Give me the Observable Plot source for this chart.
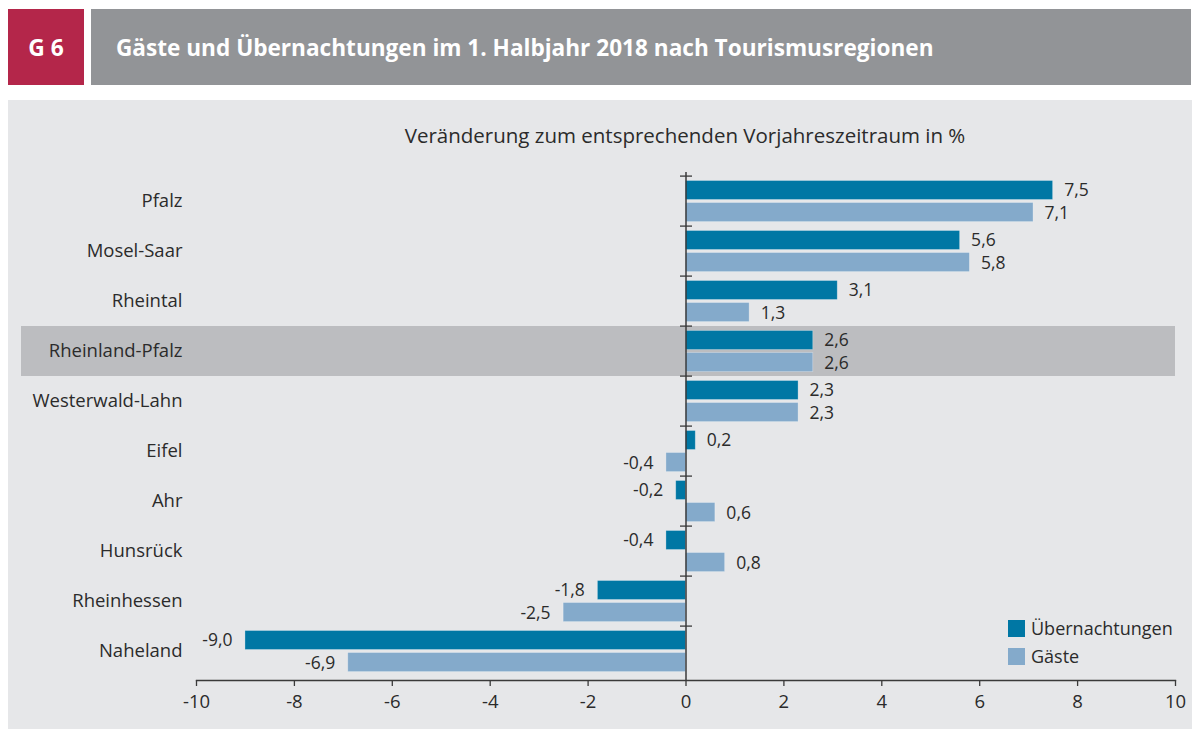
<!DOCTYPE html>
<html>
<head>
<meta charset="utf-8">
<script src="https://cdn.jsdelivr.net/npm/d3@7"></script>
<script src="https://cdn.jsdelivr.net/npm/@observablehq/plot@0.6"></script>
<style>
  html, body { margin: 0; padding: 0; background: #ffffff; overflow: hidden; }
  body { width: 1192px; height: 729px; position: relative; font-family: "Open Sans", sans-serif; color: #2b2b2b; }
  #badge { position: absolute; left: 8px; top: 9px; width: 76px; height: 76px; background: #b4264a; color: #fff;
           font-weight: bold; font-size: 22.8px; display: flex; align-items: center; justify-content: center; }
  #title { position: absolute; left: 91px; top: 9px; width: 1075px; height: 76px; padding-left: 25px; background: #929497; color: #fff;
           font-weight: bold; font-size: 22.6px; display: flex; align-items: center; }
  #panel { position: absolute; left: 8px; top: 100px; width: 1184px; height: 629px; background: #e6e7e9; }
  #subtitle { position: absolute; left: 185px; width: 1000px; top: 121px; text-align: center; font-size: 20.5px; color: #2b2b2b; }
  #chart { position: absolute; left: 0; top: 0; }
  #chart svg { display: block; }
  #legend { position: absolute; left: 1008px; top: 614px; font-size: 18px; color: #2b2b2b; }
  #legend .item { display: flex; align-items: center; height: 28px; }
  #legend .sw { width: 17px; height: 17px; margin-right: 6px; }
</style>
</head>
<body>
<div id="badge">G 6</div>
<div id="title">Gäste und Übernachtungen im 1. Halbjahr 2018 nach Tourismusregionen</div>
<div id="panel"></div>
<div id="subtitle">Veränderung zum entsprechenden Vorjahreszeitraum in %</div>
<div id="chart"></div>
<div id="legend"></div>
<script>
const regions = ["Pfalz", "Mosel-Saar", "Rheintal", "Rheinland-Pfalz", "Westerwald-Lahn", "Eifel", "Ahr", "Hunsrück", "Rheinhessen", "Naheland"];
const uebernachtungen = [7.5, 5.6, 3.1, 2.6, 2.3, 0.2, -0.2, -0.4, -1.8, -9.0];
const gaeste = [7.1, 5.8, 1.3, 2.6, 2.3, -0.4, 0.6, 0.8, -2.5, -6.9];
const xTicks = [-10, -8, -6, -4, -2, 0, 2, 4, 6, 8, 10];
const xDomain = [-10, 10];
const highlight = "Rheinland-Pfalz";
const seriesNames = ["Übernachtungen", "Gäste"];
const seriesColors = ["#0077a4", "#84aacb"];

const uData = regions.map((r, i) => ({region: r, value: uebernachtungen[i]}));
const gData = regions.map((r, i) => ({region: r, value: gaeste[i]}));
const fmt = v => v.toFixed(1).replace(".", ",");

const lineSymbol = {draw(ctx) { ctx.moveTo(-6, 0); ctx.lineTo(6, 0); }};

function labels(data, dy) {
  return [
    Plot.text(data.filter(d => d.value >= 0), {x: "value", y: "region", text: d => fmt(d.value), textAnchor: "start", dx: 11, dy, fontSize: 17.5, fill: "#2b2b2b"}),
    Plot.text(data.filter(d => d.value < 0), {x: "value", y: "region", text: d => fmt(d.value), textAnchor: "end", dx: -13, dy, fontSize: 17.5, fill: "#2b2b2b"})
  ];
}

const chart = Plot.plot({
  width: 1192,
  height: 729,
  marginLeft: 196,
  marginRight: 17,
  marginTop: 172,
  marginBottom: 49,
  style: {background: "transparent", fontFamily: "Open Sans", color: "#2b2b2b"},
  x: {domain: xDomain},
  y: {domain: regions, padding: 0},
  marks: [
    Plot.barX([{region: highlight}], {x1: xDomain[0], x2: xDomain[1], y: "region", insetLeft: -175, fill: "#bcbdc0"}),
    Plot.barX(uData, {x: "value", y: "region", insetTop: 4.5, insetBottom: 26.5, fill: seriesColors[0], stroke: "#ffffff", strokeOpacity: 0.35, strokeWidth: 0.8}),
    Plot.barX(gData, {x: "value", y: "region", insetTop: 26.5, insetBottom: 4.4, fill: seriesColors[1], stroke: "#ffffff", strokeOpacity: 0.35, strokeWidth: 0.8}),
    ...labels(uData, -11.5),
    ...labels(gData, 11.5),
    Plot.ruleX([0], {stroke: "#3a3a3a", strokeWidth: 1.5}),
    Plot.dot(regions, {x: () => 0, y: d => d, dy: -25.4, symbol: lineSymbol, fill: "none", stroke: "#3a3a3a", strokeWidth: 1.3}),
    Plot.frame({anchor: "bottom", stroke: "#3a3a3a", strokeWidth: 1.3}),
    Plot.axisX({ticks: xTicks, tickSize: 6, tickPadding: 8, fontSize: 18.5, tickFormat: d => String(d), label: null, stroke: "#3a3a3a", strokeWidth: 1.3}),
    Plot.axisY({tickSize: 0, tickPadding: 14, fontSize: 18.5, label: null})
  ]
});
document.getElementById("chart").appendChild(chart);

const legend = document.getElementById("legend");
seriesNames.forEach((name, i) => {
  const item = document.createElement("div");
  item.className = "item";
  const sw = document.createElement("div");
  sw.className = "sw";
  sw.style.background = seriesColors[i];
  const label = document.createElement("span");
  label.textContent = name;
  item.appendChild(sw);
  item.appendChild(label);
  legend.appendChild(item);
});
</script>
</body>
</html>
